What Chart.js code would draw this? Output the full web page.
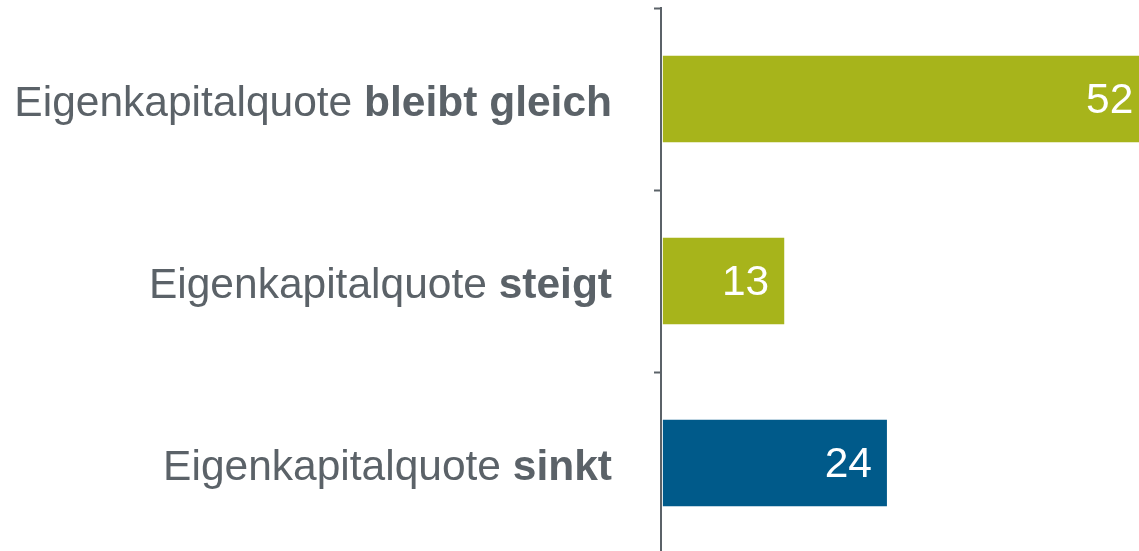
<!DOCTYPE html>
<html>
<head>
<meta charset="utf-8">
<script src="https://cdn.jsdelivr.net/npm/chart.js@4/dist/chart.umd.min.js"></script>
<style>
  html, body { margin: 0; padding: 0; background: #fff; overflow: hidden; }
  #wrap { position: relative; width: 1139px; height: 554px; }
</style>
</head>
<body>
<div id="wrap"><canvas id="chart"></canvas></div>
<script>
// category labels are split: plain prefix + bold suffix
const labelPlain = ["Eigenkapitalquote ", "Eigenkapitalquote ", "Eigenkapitalquote "];
const labelBold = ["bleibt gleich", "steigt", "sinkt"];
const values = [52, 13, 24];
const barColors = ["#a7b41b", "#a7b41b", "#005a8a"];

const TEXT_COLOR = "#5b6268";
const FONT = "Liberation Sans, Arial, sans-serif";

// draws the mixed-weight category labels and the white value labels
const labelPlugin = {
  id: "mixedLabels",
  afterDraw(chart) {
    const ctx = chart.ctx;
    const yScale = chart.scales.y;
    const xScale = chart.scales.x;
    ctx.save();
    ctx.textBaseline = "middle";
    ctx.textAlign = "right";
    labelBold.forEach((bold, i) => {
      const y = yScale.getPixelForValue(i);
      const right = chart.chartArea.left - 49;
      ctx.fillStyle = TEXT_COLOR;
      ctx.font = "bold 42.5px " + FONT;
      const bw = ctx.measureText(bold).width;
      ctx.fillText(bold, right, y + 5);
      ctx.font = "42.5px " + FONT;
      ctx.fillText(labelPlain[i], right - bw, y + 5);
    });
    values.forEach((v, i) => {
      const y = yScale.getPixelForValue(i);
      const x = xScale.getPixelForValue(v) - 15;
      ctx.fillStyle = "#ffffff";
      ctx.font = "42.5px " + FONT;
      ctx.fillText(String(v), x, y + 2);
    });
    ctx.restore();
  },
};

new Chart(document.getElementById("chart"), {
  type: "bar",
  data: {
    labels: labelBold.map((b, i) => labelPlain[i] + b),
    datasets: [
      {
        data: values,
        backgroundColor: barColors,
        barPercentage: 0.95,
        categoryPercentage: 0.5,
      },
    ],
  },
  options: {
    indexAxis: "y",
    responsive: true,
    maintainAspectRatio: false,
    animation: false,
    layout: { padding: { top: 8, bottom: 0, left: 0, right: 0 } },
    plugins: { legend: { display: false }, tooltip: { enabled: false } },
    scales: {
      x: {
        display: false,
        min: -0.2,
        max: 51.0,
      },
      y: {
        afterFit(scale) {
          scale.width = 661;
        },
        border: { display: true, color: TEXT_COLOR, width: 2 },
        grid: {
          offset: true,
          drawOnChartArea: false,
          drawTicks: true,
          tickLength: 7,
          tickWidth: 2,
          tickColor: TEXT_COLOR,
        },
        ticks: { display: false },
      },
    },
  },
  plugins: [labelPlugin],
});
</script>
</body>
</html>
